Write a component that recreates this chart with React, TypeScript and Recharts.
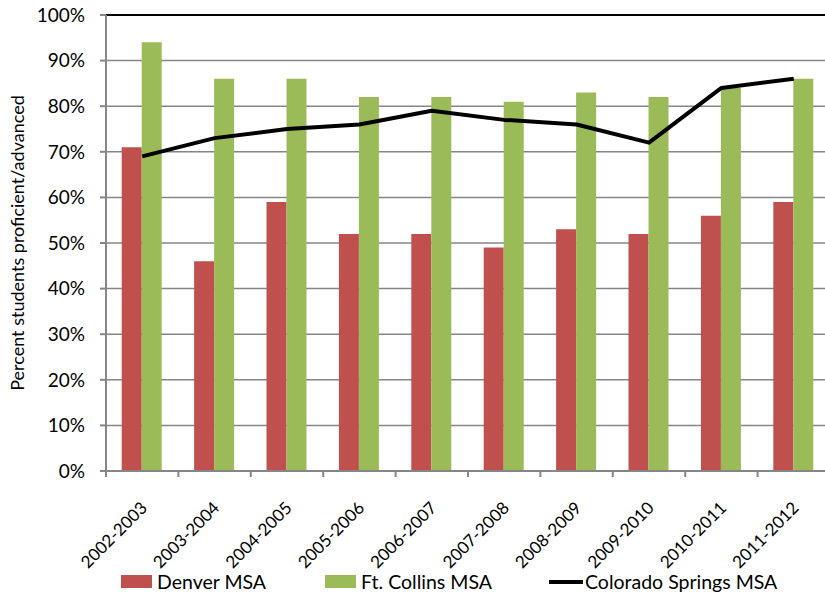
import {
  ComposedChart,
  Bar,
  Line,
  XAxis,
  YAxis,
  CartesianGrid,
  Legend,
  ReferenceLine,
} from "recharts";

const years = [
  "2002-2003",
  "2003-2004",
  "2004-2005",
  "2005-2006",
  "2006-2007",
  "2007-2008",
  "2008-2009",
  "2009-2010",
  "2010-2011",
  "2011-2012",
];
const denver = [71, 46, 59, 52, 52, 49, 53, 52, 56, 59];
const ftCollins = [94, 86, 86, 82, 82, 81, 83, 82, 84, 86];
const coloradoSprings = [69, 73, 75, 76, 79, 77, 76, 72, 84, 86];
const yTicks = [0, 10, 20, 30, 40, 50, 60, 70, 80, 90, 100];

const data = years.map((year, i) => ({
  year,
  denver: denver[i],
  ftCollins: ftCollins[i],
  springs: coloradoSprings[i],
}));

const RED = "#c0504d";
const GREEN = "#9bbb59";
const GRID = "#868686";
const FONT = "Lato, 'Open Sans', sans-serif";

// year label plus a tick mark on the left edge of its category band
function YearTick(props: any) {
  const { x, y, payload } = props;
  const half = typeof payload?.offset === "number" ? payload.offset : 36;
  return (
    <g>
      <line x1={x - half} y1={y} x2={x - half} y2={y + 6} stroke={GRID} strokeWidth={2} />
      <text
        x={x + 6}
        y={y + 38}
        transform={`rotate(-45 ${x + 6} ${y + 38})`}
        textAnchor="end"
        fontSize={17}
        fontFamily={FONT}
        fill="#000"
      >
        {payload.value}
      </text>
    </g>
  );
}

const legendItems = [
  { label: "Denver MSA", color: RED, kind: "bar", left: 121 },
  { label: "Ft. Collins MSA", color: GREEN, kind: "bar", left: 325 },
  { label: "Colorado Springs MSA", color: "#000", kind: "line", left: 549 },
];

function ChartLegend() {
  return (
    <div style={{ position: "relative", height: 30, fontFamily: FONT, fontSize: 19.5, color: "#000" }}>
      {legendItems.map((item) => (
        <div
          key={item.label}
          style={{ position: "absolute", left: item.left, top: 1, display: "flex", alignItems: "center", whiteSpace: "nowrap" }}
        >
          {item.kind === "bar" ? (
            <span style={{ display: "inline-block", width: 31, height: 13, background: item.color, marginRight: 5 }} />
          ) : (
            <span style={{ display: "inline-block", width: 34, height: 4, background: item.color, marginRight: 2 }} />
          )}
          <span>{item.label}</span>
        </div>
      ))}
    </div>
  );
}

export default function App() {
  return (
    <div style={{ position: "fixed", left: 0, top: 0, width: 825, height: 599, overflow: "hidden", background: "#fff" }}>
      <ComposedChart
        width={840}
        height={599}
        data={data}
        margin={{ top: 15, right: 10, bottom: 0, left: 0 }}
        barCategoryGap="21.7%"
        barGap={0}
      >
        <CartesianGrid vertical={false} stroke={GRID} strokeWidth={1.5} />
        <ReferenceLine y={100} stroke="#000" strokeWidth={2} />
        <XAxis
          dataKey="year"
          height={98}
          tick={<YearTick />}
          tickLine={false}
          tickSize={0}
          tickMargin={0}
          axisLine={{ stroke: GRID, strokeWidth: 2 }}
          interval={0}
        />
        <YAxis
          width={106}
          domain={[0, 100]}
          ticks={yTicks}
          tickFormatter={(v: number) => `${v}%`}
          axisLine={{ stroke: GRID, strokeWidth: 2 }}
          tickLine={{ stroke: GRID, strokeWidth: 2 }}
          tickSize={6}
          tickMargin={15}
          tick={{ fontSize: 19, fill: "#000", fontFamily: FONT }}
          label={{
            value: "Percent students proficient/advanced",
            angle: -90,
            position: "insideLeft",
            offset: 18,
            style: { textAnchor: "middle", fontSize: 18, fill: "#000", fontFamily: FONT },
          }}
        />
        <Legend
          verticalAlign="bottom"
          content={() => <ChartLegend />}
          wrapperStyle={{ left: 0, width: 825, height: 30 }}
        />
        <Bar dataKey="denver" name="Denver MSA" fill={RED} isAnimationActive={false} />
        <Bar dataKey="ftCollins" name="Ft. Collins MSA" fill={GREEN} isAnimationActive={false} />
        <Line
          dataKey="springs"
          name="Colorado Springs MSA"
          stroke="#000"
          strokeWidth={4}
          dot={false}
          activeDot={false}
          strokeLinejoin="round"
          isAnimationActive={false}
        />
      </ComposedChart>
    </div>
  );
}
